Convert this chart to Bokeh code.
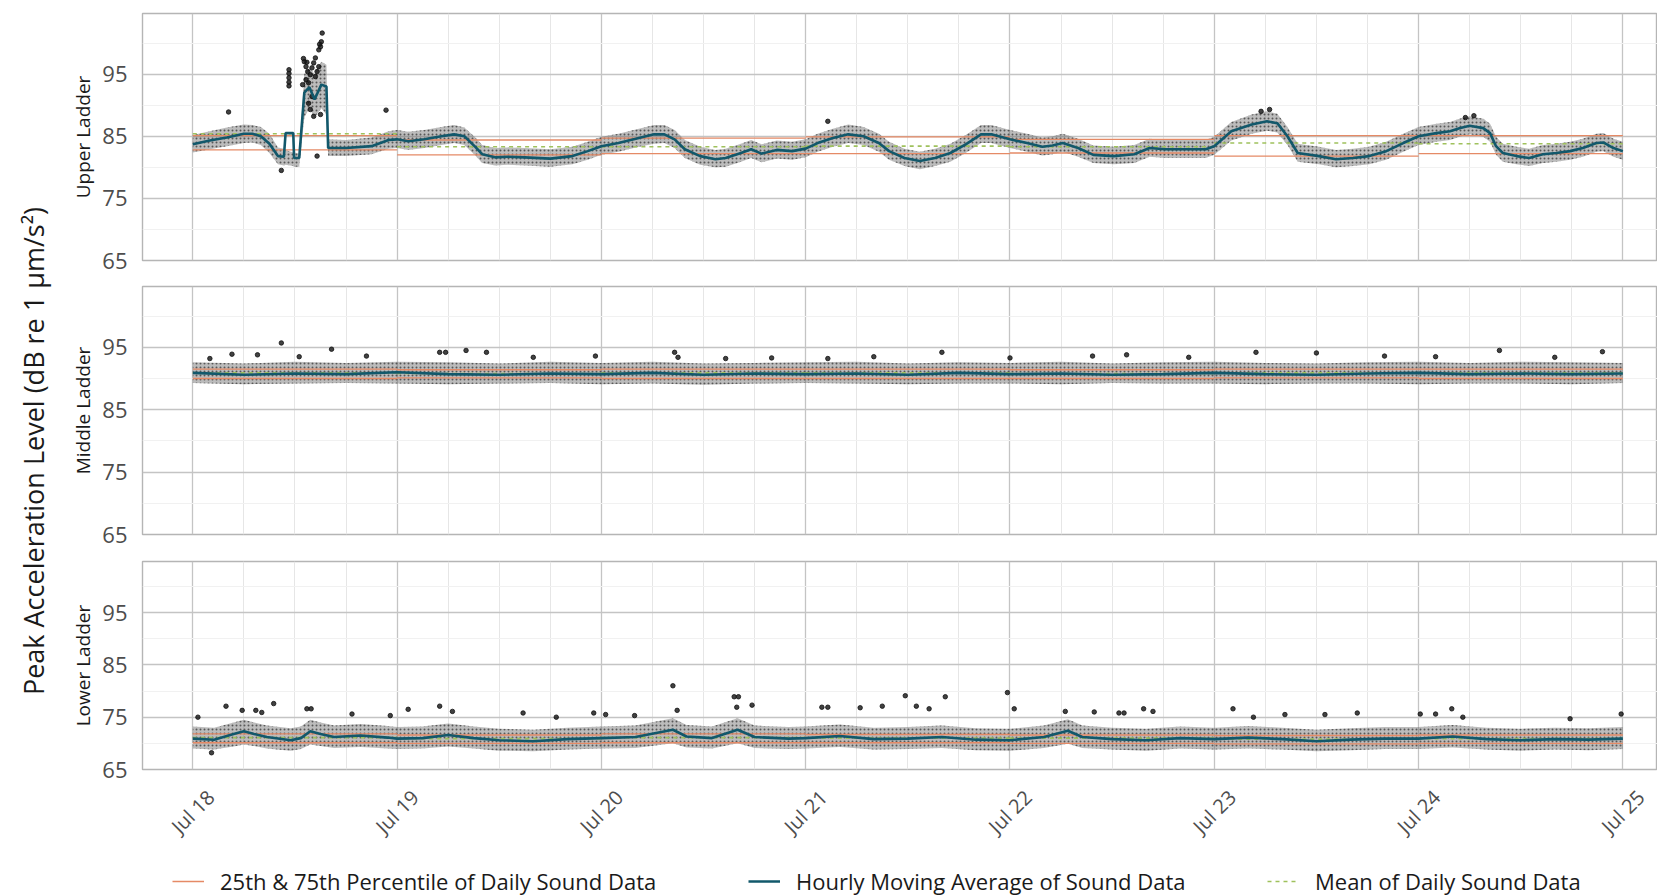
import math
from bokeh.plotting import figure
from bokeh.layouts import column, row
from bokeh.models import Range1d, FixedTicker, Grid, Label, Legend, LegendItem
from bokeh.embed import file_html
from bokeh.resources import INLINE

FONT = "Open Sans"

# ---------------- data (hours since Jul 18 00:00) ----------------
day_labels = ["Jul 18", "Jul 19", "Jul 20", "Jul 21", "Jul 22", "Jul 23", "Jul 24", "Jul 25"]
day_hours = [0, 24, 48, 72, 96, 120, 144, 168]

# Upper ladder: hourly moving average and the spread of the 10-min points around it
upper_t = [0, 2, 4, 6, 7, 8, 9, 10, 10.7, 10.9,
           11.8, 11.9, 12.5, 13.1, 13.7, 14.3, 15.1, 15.7, 15.9, 18,
           21, 23, 24, 25.3, 27.2, 29.2, 30.7, 31.9, 33.1, 34,
           35.5, 37, 39, 42, 44.6, 46.4, 48, 50, 52.4, 54.2,
           55.4, 56.6, 57.8, 59.6, 61.4, 62.6, 64.4, 65.6, 66.8, 68.6,
           70.4, 72, 73.4, 75.2, 77, 78.8, 80.6, 81.8, 83.6, 85.4,
           87.2, 89, 90.8, 92.6, 93.8, 96, 98, 99.8, 101, 102.2,
           104, 105.8, 108.2, 110.6, 112.4, 114.2, 116.6, 119, 120, 122,
           124.4, 126.2, 127.4, 128.6, 129.8, 132.3, 134.3, 136.3, 138.2, 140.2,
           142.2, 144, 146.1, 147.7, 148.8, 150, 151.6, 152.4, 153.1, 153.9,
           155.5, 157, 158.6, 160.2, 161.8, 163.3, 164.9, 165.7, 166.9, 168]
upper_ma = [83.7, 84.3, 84.8, 85.4, 85.4, 85.0, 83.8, 81.8, 81.7, 85.5,
            85.5, 81.5, 81.5, 92.0, 92.9, 90.9, 93.3, 93.0, 83.1, 83.1,
            83.4, 84.4, 84.5, 84.2, 84.5, 85.0, 85.3, 85.0, 83.4, 82.1,
            81.6, 81.7, 81.6, 81.4, 81.8, 82.6, 83.4, 83.9, 84.7, 85.3,
            85.3, 84.5, 82.9, 81.8, 81.3, 81.5, 82.3, 82.9, 82.2, 82.8,
            82.6, 83.0, 83.9, 84.7, 85.3, 85.0, 83.9, 82.6, 81.5, 81.0,
            81.5, 82.3, 83.7, 85.3, 85.3, 84.5, 83.9, 83.3, 83.5, 83.9,
            83.1, 82.0, 81.8, 82.1, 83.1, 82.9, 82.9, 82.9, 83.4, 85.8,
            86.9, 87.4, 87.1, 85.0, 82.3, 81.8, 81.3, 81.5, 81.8, 82.6,
            83.9, 85.0, 85.5, 85.8, 86.3, 86.7, 86.3, 85.5, 83.4, 82.3,
            81.8, 81.5, 82.1, 82.3, 82.6, 83.1, 83.9, 84.0, 83.1, 82.6]
upper_lo = [82.4, 82.9, 83.4, 83.9, 84.0, 83.6, 82.3, 80.5, 80.3, 80.4,
            80.2, 80.1, 80.1, 88.0, 89.5, 88.0, 89.5, 88.5, 81.8, 81.8,
            82.1, 83.0, 83.1, 82.8, 83.1, 83.6, 83.9, 83.6, 82.0, 80.7,
            80.3, 80.4, 80.3, 80.1, 80.5, 81.2, 82.0, 82.5, 83.3, 83.8,
            83.9, 83.1, 81.5, 80.4, 80.0, 80.1, 80.9, 81.5, 80.8, 81.4,
            81.2, 81.6, 82.5, 83.3, 83.9, 83.6, 82.5, 81.2, 80.2, 79.7,
            80.2, 80.9, 82.3, 83.9, 83.9, 83.1, 82.5, 81.9, 82.1, 82.5,
            81.7, 80.7, 80.5, 80.7, 81.7, 81.5, 81.5, 81.5, 82.0, 84.3,
            85.4, 85.9, 85.6, 83.6, 80.9, 80.5, 80.0, 80.2, 80.5, 81.2,
            82.5, 83.6, 84.1, 84.4, 84.9, 85.3, 84.9, 84.1, 82.0, 80.9,
            80.5, 80.2, 80.7, 80.9, 81.2, 81.7, 82.5, 82.6, 81.7, 81.2]
upper_hi = [85.2, 85.8, 86.4, 86.9, 86.8, 86.5, 85.4, 83.2, 83.0, 82.8,
            82.4, 82.4, 82.2, 95.0, 96.0, 95.0, 97.0, 96.5, 84.5, 84.4,
            84.8, 85.8, 86.0, 85.7, 86.0, 86.5, 86.8, 86.4, 84.9, 83.6,
            83.1, 83.2, 83.1, 82.9, 83.3, 84.1, 84.9, 85.4, 86.2, 86.8,
            86.8, 86.0, 84.4, 83.3, 82.8, 83.0, 83.8, 84.4, 83.7, 84.3,
            84.1, 84.5, 85.4, 86.2, 86.9, 86.5, 85.4, 84.1, 83.0, 82.5,
            83.0, 83.8, 85.2, 86.8, 86.8, 86.0, 85.4, 84.8, 85.0, 85.4,
            84.6, 83.5, 83.3, 83.6, 84.6, 84.4, 84.4, 84.4, 84.9, 87.3,
            88.5, 89.0, 88.6, 86.5, 83.8, 83.3, 82.8, 83.0, 83.3, 84.1,
            85.4, 86.5, 87.0, 87.3, 87.8, 88.2, 87.8, 87.0, 84.9, 83.8,
            83.3, 83.0, 83.6, 83.8, 84.1, 84.6, 85.4, 85.5, 84.6, 84.1]
upper_out_t = [11.3, 11.3, 11.3, 11.3, 11.3, 12.9, 13.1, 13.3, 13.5, 13.6,
               13.8, 14.0, 14.2, 14.4, 14.6, 14.8, 15.0, 15.1, 15.2, 13.3,
               14.4, 14.8, 13.6, 14.2, 15.0, 13.8, 14.0, 14.6, 4.2, 22.7,
               10.4, 13.0, 13.4, 14.9, 125.5, 126.5, 149.5, 150.5, 74.6]
upper_out_v = [95.7, 95.1, 94.4, 93.7, 93.1, 93.3, 97.0, 96.2, 95.4, 93.6,
               94.9, 96.0, 96.8, 97.6, 95.4, 98.9, 99.4, 100.2, 101.6, 94.1,
               94.6, 96.2, 90.3, 88.2, 88.5, 89.3, 91.4, 81.8, 88.9, 89.2,
               79.5, 97.5, 96.9, 99.8, 89.0, 89.3, 88.0, 88.3, 87.4]
upper_p25 = [82.8, 82.0, 82.2, 82.2, 82.3, 81.8, 82.2]
upper_p75 = [85.1, 84.4, 84.7, 84.9, 84.5, 85.1, 85.1]
upper_mean = [85.4, 83.3, 83.3, 83.4, 83.3, 83.9, 83.8]

# Middle ladder
middle_t = [0, 6, 12, 18, 24, 30, 36, 42, 48, 54, 60, 66, 72, 78, 84,
            90, 96, 102, 108, 114, 120, 126, 132, 138, 144, 150, 156, 162, 168]
middle_ma = [90.9, 90.6, 90.8, 90.7, 91.0, 90.7, 90.6, 90.8, 90.7, 90.9, 90.6, 90.8, 90.7, 90.8, 90.6,
             90.9, 90.7, 90.8, 90.6, 90.7, 90.9, 90.7, 90.6, 90.8, 90.9, 90.7, 90.8, 90.7, 90.8]
middle_lo = [89.3, 89.1, 89.2, 89.3, 89.2, 89.1, 89.2, 89.3, 89.1, 89.2, 89.0, 89.2, 89.3, 89.2, 89.1,
             89.2, 89.2, 89.1, 89.3, 89.2, 89.2, 89.1, 89.2, 89.2, 89.1, 89.2, 89.2, 89.1, 89.3]
middle_hi = [92.6, 92.4, 92.7, 92.5, 92.7, 92.6, 92.4, 92.7, 92.5, 92.7, 92.4, 92.5, 92.6, 92.7, 92.4,
             92.6, 92.5, 92.7, 92.4, 92.6, 92.7, 92.5, 92.4, 92.6, 92.7, 92.5, 92.7, 92.6, 92.5]
middle_out_t = [10.4, 16.3, 4.6, 7.6, 29, 29.7, 32.1, 34.5, 20.4, 47.3, 56.6, 57, 62.6, 74.6, 88,
                105.7, 109.7, 124.9, 132, 153.5, 165.6, 2.0, 12.5, 40, 68, 80, 96, 117, 140, 146, 160]
middle_out_v = [95.7, 94.7, 93.9, 93.8, 94.2, 94.2, 94.5, 94.2, 93.6, 93.6, 94.2, 93.4, 93.2, 93.2, 94.2,
                93.6, 93.8, 94.2, 94.1, 94.5, 94.3, 93.2, 93.5, 93.4, 93.3, 93.5, 93.3, 93.4, 93.6, 93.5, 93.4]
middle_p25 = [90.0, 90.1, 90.0, 90.0, 90.0, 90.1, 90.0]
middle_p75 = [91.5, 91.4, 91.5, 91.5, 91.4, 91.5, 91.5]
middle_mean = [90.9, 90.8, 90.9, 90.9, 90.8, 90.9, 90.9]

# Lower ladder
lower_t = [0, 2.5, 4.8, 6, 7.2, 8.7, 11.5, 12.7, 13.8, 15,
           16.6, 19.7, 22.9, 24, 27, 30, 33, 36, 40, 44,
           48, 52, 56.4, 58, 61, 64, 66, 70, 72, 76,
           80, 84, 88, 92, 96, 100, 102.8, 104.5, 108, 112,
           116, 120, 124, 128, 132, 136, 140, 144, 148, 152,
           156, 160, 164, 168]
lower_ma = [70.9, 70.7, 71.8, 72.3, 71.8, 71.2, 70.6, 71.0, 72.3, 71.8,
            71.2, 71.5, 71.1, 70.9, 71.0, 71.6, 71.0, 70.6, 70.4, 70.8,
            71.0, 71.2, 72.6, 71.3, 71.0, 72.6, 71.2, 70.9, 71.0, 71.4,
            70.8, 70.9, 71.2, 70.7, 70.6, 71.2, 72.4, 71.2, 70.8, 70.6,
            71.0, 70.8, 71.1, 70.8, 70.4, 70.7, 70.9, 70.9, 71.3, 70.8,
            70.6, 70.8, 70.7, 70.9]
lower_lo = [69.0, 68.8, 69.4, 69.8, 69.5, 69.0, 68.6, 68.9, 69.8, 69.5,
            69.1, 69.3, 69.0, 68.9, 69.0, 69.4, 69.0, 68.6, 68.5, 68.8,
            69.0, 69.1, 70.0, 69.2, 69.0, 70.0, 69.1, 68.9, 69.0, 69.3,
            68.8, 68.9, 69.1, 68.7, 68.6, 69.1, 69.9, 69.1, 68.8, 68.6,
            69.0, 68.8, 69.0, 68.8, 68.5, 68.7, 68.9, 68.9, 69.2, 68.8,
            68.6, 68.8, 68.7, 68.9]
lower_hi = [73.2, 73.0, 74.0, 74.5, 74.0, 73.4, 72.9, 73.2, 74.5, 74.0,
            73.4, 73.7, 73.3, 73.1, 73.2, 73.8, 73.2, 72.8, 72.6, 73.0,
            73.2, 73.4, 74.8, 73.5, 73.2, 74.8, 73.4, 73.1, 73.2, 73.6,
            73.0, 73.1, 73.4, 72.9, 72.8, 73.4, 74.6, 73.4, 73.0, 72.8,
            73.2, 73.0, 73.3, 73.0, 72.6, 72.9, 73.1, 73.1, 73.5, 73.0,
            72.8, 73.0, 72.9, 73.1]
lower_out_t = [3.9, 9.5, 5.8, 7.4, 8.1, 13.4, 13.9, 0.6, 18.7, 23.2,
               25.3, 29, 30.5, 38.8, 42.7, 47.1, 48.5, 51.9, 56.4, 56.9,
               63.6, 64.1, 63.9, 65.7, 73.9, 74.6, 78.4, 81, 83.7, 85,
               86.5, 88.4, 95.7, 96.5, 102.5, 105.9, 108.8, 109.4, 111.7, 112.8,
               122.2, 124.6, 128.3, 133, 136.8, 144.2, 146, 147.9, 149.2, 161.8,
               167.8, 2.2]
lower_out_v = [77.1, 77.6, 76.3, 76.3, 75.9, 76.6, 76.6, 75.0, 75.6, 75.3,
               76.5, 77.1, 76.1, 75.8, 75.0, 75.8, 75.5, 75.3, 81.0, 76.3,
               78.9, 78.9, 76.9, 77.3, 76.9, 76.9, 76.8, 77.1, 79.1, 77.1,
               76.6, 78.9, 79.7, 76.6, 76.1, 76.0, 75.8, 75.8, 76.6, 76.1,
               76.6, 75.0, 75.5, 75.5, 75.8, 75.6, 75.6, 76.6, 75.0, 74.7,
               75.6, 68.2]
lower_p25 = [70.1, 70.0, 70.1, 70.1, 70.0, 69.9, 70.0]
lower_p75 = [71.8, 71.6, 71.8, 71.7, 71.6, 71.5, 71.6]
lower_mean = [71.1, 70.9, 71.1, 71.0, 71.0, 70.8, 70.9]

y_ticks = [65, 75, 85, 95]
y_minor = [70, 80, 90, 100]

# ---------------- styling ----------------
ORANGE = "#e58a66"
TEAL = "#12586b"
GREEN = "#9fc15c"
MAJOR_GRID = "#c4c4c4"
MINOR_GRID = "#e6e6e6"
BORDER = "#b5b5b5"
TICK_COL = "#4d4d4d"

TOTAL_W = 1657
TITLE_W = 58
PANEL_W = TOTAL_W - TITLE_W
LEFT = 84
X_RANGE = (-5.91, 172.07)
Y_RANGE = (65, 104.75)

minor_hours = [h + q for h in day_hours[:-1] for q in (6, 12, 18)]


def make_panel(name, t, ma, lo, hi, out_t, out_v, p25, p75, mean,
               height, top, bottom):
    p = figure(width=PANEL_W, height=height, output_backend="svg",
               toolbar_location=None, x_axis_location=None, y_axis_location="left",
               x_range=Range1d(*X_RANGE), y_range=Range1d(*Y_RANGE),
               min_border_left=LEFT, min_border_right=0,
               min_border_top=top, min_border_bottom=bottom)
    p.grid.visible = False
    p.outline_line_color = BORDER
    p.outline_line_width = 1.4
    p.background_fill_color = "white"
    p.border_fill_color = "white"

    p.add_layout(Grid(dimension=0, ticker=FixedTicker(ticks=day_hours, minor_ticks=minor_hours),
                      grid_line_color=MAJOR_GRID, grid_line_width=1.3,
                      minor_grid_line_color=MINOR_GRID, minor_grid_line_width=1))
    p.add_layout(Grid(dimension=1, ticker=FixedTicker(ticks=y_ticks, minor_ticks=y_minor),
                      grid_line_color=MAJOR_GRID, grid_line_width=1.3,
                      minor_grid_line_color="#f1f1f1", minor_grid_line_width=1))

    ax = p.yaxis[0]
    ax.ticker = FixedTicker(ticks=y_ticks, minor_ticks=[])
    ax.axis_line_color = None
    ax.major_tick_line_color = None
    ax.minor_tick_line_color = None
    ax.major_tick_out = 0
    ax.major_tick_in = 0
    ax.major_label_standoff = 15
    ax.major_label_text_font = FONT
    ax.major_label_text_font_size = "22px"
    ax.major_label_text_color = TICK_COL
    ax.axis_label = name
    ax.axis_label_text_font = FONT
    ax.axis_label_text_font_size = "19px"
    ax.axis_label_text_font_style = "normal"
    ax.axis_label_text_color = "#1a1a1a"
    ax.axis_label_standoff = 3

    # cloud of 10-minute readings
    p.varea(x=t, y1=lo, y2=hi, fill_color="#6a6a6a", fill_alpha=0.45,
            hatch_pattern="dot", hatch_color="#151515", hatch_alpha=0.6,
            hatch_scale=4, hatch_weight=1)
    p.scatter(x=out_t, y=out_v, size=4.5, color="#111111", alpha=0.8)

    x0 = day_hours[:-1]
    x1 = day_hours[1:]
    p.segment(x0=x0, x1=x1, y0=p25, y1=p25, line_color=ORANGE, line_width=1.4)
    p.segment(x0=x0, x1=x1, y0=p75, y1=p75, line_color=ORANGE, line_width=1.4)
    p.segment(x0=x0, x1=x1, y0=mean, y1=mean, line_color=GREEN, line_width=1.6,
              line_dash="4 4")
    p.line(x=t, y=ma, line_color=TEAL, line_width=2.6)
    return p


p_up = make_panel("Upper Ladder", upper_t, upper_ma, upper_lo, upper_hi,
                  upper_out_t, upper_out_v, upper_p25, upper_p75, upper_mean,
                  273, 13, 13)
p_mid = make_panel("Middle Ladder", middle_t, middle_ma, middle_lo, middle_hi,
                   middle_out_t, middle_out_v, middle_p25, middle_p75, middle_mean,
                   274, 13, 13)
p_low = make_panel("Lower Ladder", lower_t, lower_ma, lower_lo, lower_hi,
                   lower_out_t, lower_out_v, lower_p25, lower_p75, lower_mean,
                   236, 14, 14)

# rotated date labels under the lowest panel
XLAB_H = 65
xlab = figure(width=PANEL_W, height=XLAB_H, output_backend="svg", toolbar_location=None,
              x_axis_location=None, y_axis_location=None,
              x_range=Range1d(*X_RANGE), y_range=Range1d(0, 1),
              min_border_left=LEFT, min_border_right=0, min_border_top=0, min_border_bottom=0,
              outline_line_color=None)
xlab.grid.visible = False
for h, lab in zip(day_hours, day_labels):
    xlab.add_layout(Label(x=h, y=37, y_units="screen", text=lab, angle=math.pi / 4,
                          text_align="center", text_baseline="middle",
                          text_font=FONT, text_font_size="20px", text_color=TICK_COL))

# shared y title
TITLE_H = 273 + 274 + 236 + XLAB_H
title_fig = figure(width=TITLE_W, height=TITLE_H, output_backend="svg",
                   toolbar_location=None, x_axis_location=None, y_axis_location=None,
                   x_range=Range1d(0, 1), y_range=Range1d(0, 1), min_border=0,
                   outline_line_color=None)
title_fig.grid.visible = False
title_fig.add_layout(Label(x=33, y=TITLE_H - 450.5, x_units="screen", y_units="screen",
                           text="Peak Acceleration Level (dB re 1 \u03bcm/s\u00b2)",
                           angle=math.pi / 2, text_align="center", text_baseline="middle",
                           text_font=FONT, text_font_size="27px", text_color="#1a1a1a"))

# legend strip
nan = float("nan")
LEG_H = 896 - TITLE_H
leg = figure(width=TOTAL_W, height=LEG_H, output_backend="svg", toolbar_location=None,
             x_axis_location=None, y_axis_location=None,
             x_range=Range1d(0, 1), y_range=Range1d(0, 1), min_border=0,
             outline_line_color=None)
leg.grid.visible = False
r1 = leg.line(x=[nan], y=[nan], line_color=ORANGE, line_width=1.6)
r2 = leg.line(x=[nan], y=[nan], line_color=TEAL, line_width=2.6)
r3 = leg.line(x=[nan], y=[nan], line_color=GREEN, line_width=1.6, line_dash="4 4")
for lab, r, xpos in [("25th & 75th Percentile of Daily Sound Data", r1, 172),
                     ("Hourly Moving Average of Sound Data", r2, 748),
                     ("Mean of Daily Sound Data", r3, 1267)]:
    leg.add_layout(Legend(items=[LegendItem(label=lab, renderers=[r])], location=(xpos, 0),
                          orientation="horizontal", border_line_color=None,
                          background_fill_alpha=0, padding=0, margin=0, spacing=0,
                          glyph_width=32, glyph_height=20, label_standoff=16,
                          label_text_font=FONT, label_text_font_size="22px",
                          label_text_color="#1a1a1a"))

layout = column(row(title_fig, column(p_up, p_mid, p_low, xlab, spacing=0), spacing=0),
                leg, spacing=0)
open("out.html", "w").write(file_html(layout, INLINE))
